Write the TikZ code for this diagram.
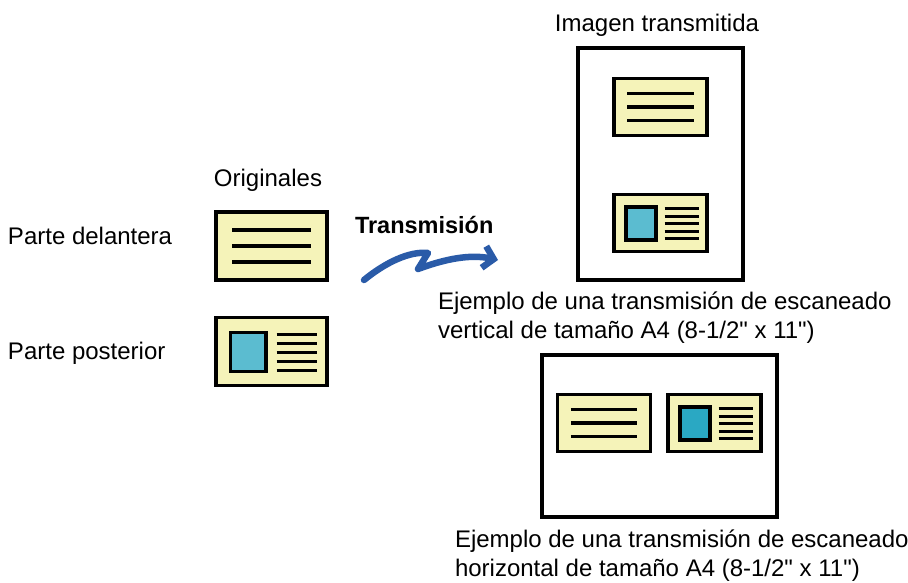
\documentclass[tikz,border=0pt]{standalone}
\usepackage{fontspec}
\setmainfont{Liberation Sans}
\usepackage{tikz}
\usetikzlibrary{arrows.meta,positioning}

\definecolor{cardyellow}{HTML}{F5F3B9}
\definecolor{photoblue}{HTML}{5BBCD0}
\definecolor{photodark}{HTML}{2AA8C3}
\definecolor{flowblue}{HTML}{2A5BA8}

\begin{document}
\begin{tikzpicture}[x=1pt, y=-1pt,
  frontcard/.pic={
    \node[cardbox] (-box) {};
    \foreach \yy in {-16,0,16}
      \draw[textline] (-39.5,\yy) -- (39.5,\yy);
  },
  pics/backcard/.style={code={
    \node[cardbox] (-box) {};
    \draw[line width=3.5pt, fill=#1] (-41,-19) rectangle (-5.5,20);
    \foreach \yy in {-17,-8,1,10,19}
      \draw[textline, line width=3pt] (5,\yy) -- (45.5,\yy);
  }}]
  \tikzstyle{txt}=[font=\fontsize{24}{29}\selectfont, inner sep=0pt, outer sep=0pt]
  \tikzstyle{cardbox}=[rectangle, draw, line width=3.5pt, fill=cardyellow, minimum width=111pt, minimum height=68pt, inner sep=0pt, transform shape]
  \tikzstyle{textline}=[line width=3.5pt]
  \tikzstyle{sheet}=[rectangle, draw, line width=3.5pt, fill=white, inner sep=0pt]
  \tikzstyle{flow}=[draw=flowblue, line width=6.5pt, line cap=round, line join=round, -{Straight Barb[length=10pt,width=22pt]}]

  \useasboundingbox (0,0) rectangle (908,582);

  % originals
  \node[txt, anchor=base] (orig) at (268,186) {Originales};
  \node[txt, anchor=base west] (frontlbl) at (8,244) {Parte delantera};
  \node[txt, anchor=base west] (backlbl) at (8,359) {Parte posterior};
  \pic (front) at (271.5,246) {frontcard};
  \pic (back) at (271.5,351.5) {backcard=photoblue};

  % transmission arrow
  \node[txt, anchor=base west, font=\fontsize{23.5}{29}\selectfont\bfseries] (trans) at (355,233) {Transmisión};
  \coordinate (src) at (364,280);
  \coordinate (zigtop) at (428,253);
  \coordinate (zigbot) at (418,269);
  \coordinate (dst) at (498,260);
  \draw[flow] (src) .. controls (386,262) and (410,251) .. (zigtop) -- (zigbot)
    .. controls (445,259) and (470,254) .. (dst);

  % vertical result
  \node[txt, anchor=base] (imglbl) at (657,31) {Imagen transmitida};
  \node[sheet, minimum width=165pt, minimum height=232pt] (portrait) at (660.5,164) {};
  \pic[scale=0.84] (tfront) at (660.5,107) {frontcard};
  \pic[scale=0.84] (tback) at (660.5,223) {backcard=photoblue};
  \node[txt, anchor=base west, align=left] (vcap) at (438,338)
    {Ejemplo de una transmisión de escaneado\\vertical de tamaño A4 (8-1/2\textquotedbl{} x 11\textquotedbl)};

  % horizontal result
  \node[sheet, minimum width=235pt, minimum height=162pt] (landscape) at (659.5,436) {};
  \pic[scale=0.84] (lfront) at (604,423) {frontcard};
  \pic[scale=0.84] (lback) at (714.5,423) {backcard=photodark};
  \node[txt, anchor=base west, align=left] (hcap) at (455,576)
    {Ejemplo de una transmisión de escaneado\\horizontal de tamaño A4 (8-1/2\textquotedbl{} x 11\textquotedbl)};
\end{tikzpicture}
\end{document}
